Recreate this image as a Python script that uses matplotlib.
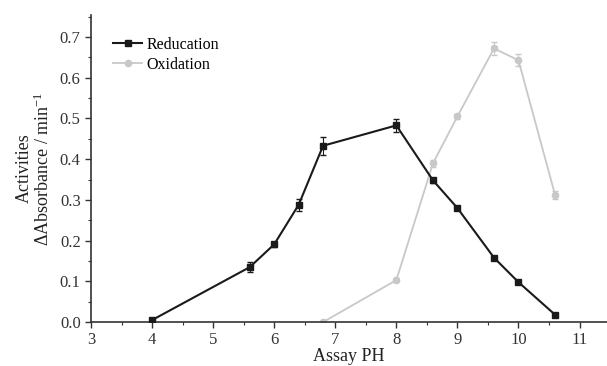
import numpy as np
import matplotlib.pyplot as plt
from matplotlib.ticker import MultipleLocator
from matplotlib.lines import Line2D

plt.rcParams['font.family'] = ['Liberation Serif', 'DejaVu Serif']
plt.rcParams['mathtext.fontset'] = 'stix'

# Reducation series
red_ph = [4.0, 5.6, 6.0, 6.4, 6.8, 8.0, 8.6, 9.0, 9.6, 10.0, 10.6]
red_act = [0.005, 0.135, 0.191, 0.288, 0.433, 0.483, 0.348, 0.280, 0.158, 0.098, 0.018]
red_err = [0.004, 0.012, 0.006, 0.015, 0.022, 0.015, 0.006, 0.005, 0.005, 0.005, 0.004]

# Oxidation series
ox_ph = [6.8, 8.0, 8.6, 9.0, 9.6, 10.0, 10.6]
ox_act = [0.0, 0.103, 0.390, 0.505, 0.672, 0.643, 0.312]
ox_err = [0.003, 0.005, 0.008, 0.006, 0.015, 0.015, 0.010]

red_col = '#1a1a1a'
ox_col = '#c8c8c8'

fig = plt.figure(figsize=(6.07, 3.66), dpi=100)
ax = fig.add_axes([0.150, 0.120, 0.850, 0.840])

ax.errorbar(ox_ph, ox_act, yerr=ox_err, color=ox_col, marker='o', markersize=4.5,
            linewidth=1.3, capsize=2, elinewidth=0.8, zorder=2)
ax.errorbar(red_ph, red_act, yerr=red_err, color=red_col, marker='s', markersize=5,
            linewidth=1.5, capsize=2, elinewidth=0.8, zorder=3)

ax.set_xlim(3, 11.45)
ax.set_ylim(0, 0.755)
ax.xaxis.set_major_locator(MultipleLocator(1))
ax.xaxis.set_minor_locator(MultipleLocator(0.5))
ax.yaxis.set_major_locator(MultipleLocator(0.1))
ax.yaxis.set_minor_locator(MultipleLocator(0.05))
ax.yaxis.set_major_formatter(plt.FuncFormatter(lambda v, p: f"{v:.1f}"))

for s in ['top', 'right']:
    ax.spines[s].set_visible(False)
for s in ['left', 'bottom']:
    ax.spines[s].set_linewidth(1.2)
    ax.spines[s].set_color('#333333')
ax.tick_params(which='major', direction='out', length=4, width=1, labelsize=12, colors='#333333')
ax.tick_params(which='minor', direction='out', length=2.5, width=0.8, colors='#333333')

ax.set_xlabel('Assay PH', fontsize=13, labelpad=0, color='#222222')
ax.set_ylabel('Activities\n' + r'ΔAbsorbance / min$^{\mathregular{-1}}$', fontsize=13,
              labelpad=5, color='#222222', linespacing=1.0)

handles = [Line2D([], [], color=red_col, marker='s', markersize=5, linewidth=1.5),
           Line2D([], [], color=ox_col, marker='o', markersize=4.5, linewidth=1.3)]
ax.legend(handles, ['Reducation', 'Oxidation'], loc='upper left',
          bbox_to_anchor=(0.015, 0.975), frameon=False, fontsize=11.5,
          handlelength=1.8, handletextpad=0.3, labelspacing=0.25)

fig.savefig('out.png', dpi=100)
